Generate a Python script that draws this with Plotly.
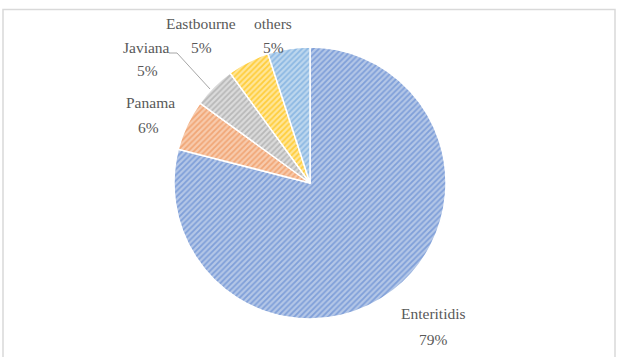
import plotly.graph_objects as go

labels = ["Enteritidis", "Panama", "Javiana", "Eastbourne", "others"]
values = [79, 6, 5, 5, 5]
bg_colors = ["#B4C7E7", "#F8CBAD", "#DBDBDB", "#FFE699", "#BDD7EE"]
fg_colors = ["#7F9FD9", "#F1A676", "#B8B8B8", "#FFCD3A", "#8CB8E3"]

# label layout (pixel positions of name line / percent line centers), as in the reference
label_pos = {
    "Enteritidis": ((433, 313), (433, 339)),
    "Panama": ((150, 102), (148, 127)),
    "Javiana": ((146, 48), (147, 71)),
    "Eastbourne": ((201, 24), (201, 48)),
    "others": ((273, 24), (273, 48)),
}

W, H = 624, 357
cx, cy, r = 310, 183, 136
FONT = dict(family="Liberation Serif", size=15.5, color="#595959")

total = sum(values)

fig = go.Figure(go.Pie(
    labels=labels,
    values=values,
    sort=False,
    direction="clockwise",
    rotation=0,
    textinfo="none",
    marker=dict(
        colors=bg_colors,
        line=dict(color="white", width=1.5),
        pattern=dict(shape="/", fgcolor=fg_colors, bgcolor=bg_colors,
                     size=4, solidity=0.45, fillmode="replace"),
    ),
    domain=dict(x=[(cx - r) / W, (cx + r) / W], y=[1 - (cy + r) / H, 1 - (cy - r) / H]),
    showlegend=False,
    hoverinfo="label+percent",
))

def px(x, y):
    return x / W, 1 - y / H

annotations = []
for lab, val in zip(labels, values):
    (nx, ny), (qx, qy) = label_pos[lab]
    x, y = px(nx, ny)
    annotations.append(dict(text=lab, x=x, y=y, xref="paper", yref="paper",
                            showarrow=False, font=FONT, xanchor="center", yanchor="middle"))
    x, y = px(qx, qy)
    annotations.append(dict(text=f"{round(val / total * 100)}%", x=x, y=y,
                            xref="paper", yref="paper", showarrow=False, font=FONT,
                            xanchor="center", yanchor="middle"))

fig.update_layout(
    width=W, height=H,
    margin=dict(l=0, r=0, t=0, b=0),
    paper_bgcolor="white",
    plot_bgcolor="white",
    annotations=annotations,
    shapes=[
        dict(type="rect", xref="paper", yref="paper",
             x0=3 / W, x1=615 / W, y0=-0.05, y1=1 - 9.5 / H,
             line=dict(color="#D9D9D9", width=1.5), fillcolor="rgba(0,0,0,0)"),
        # leader line for Javiana
        dict(type="path", xref="paper", yref="paper",
             path="M {} {} L {} {} L {} {}".format(*px(169, 53), *px(177, 53), *px(210, 89)),
             line=dict(color="#A6A6A6", width=1)),
    ],
)

fig.write_html("out.html")
